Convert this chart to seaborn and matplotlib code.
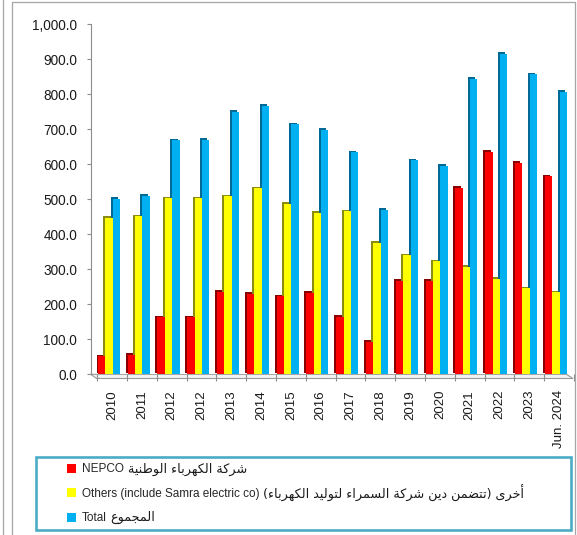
import numpy as np
import pandas as pd
import matplotlib
matplotlib.use("Agg")
import matplotlib.pyplot as plt
import seaborn as sns
from matplotlib.lines import Line2D
from matplotlib.patches import Rectangle, Patch, Polygon
from matplotlib.transforms import ScaledTranslation
from matplotlib.ticker import FuncFormatter

# ---- data -------------------------------------------------------------
years = ["2010", "2011", "2012", "2012", "2013", "2014", "2015", "2016",
         "2017", "2018", "2019", "2020", "2021", "2022", "2023", "Jun. 2024"]
nepco = [52, 55, 163, 163, 235, 230, 223, 233, 164, 93, 268, 268, 533, 636, 604, 566]
others = [447, 451, 503, 503, 509, 531, 487, 462, 466, 375, 340, 323, 307, 273, 246, 234]
total = [501, 510, 669, 670, 750, 767, 714, 699, 634, 470, 612, 595, 845, 916, 857, 807]

series_keys = ["nepco", "others", "total"]
series_en = ["NEPCO", "Others (include Samra electric co)", "Total"]
series_ar = ["شركة الكهرباء الوطنية",
             "أخرى (تتضمن دين شركة السمراء لتوليد الكهرباء)",
             "المجموع"]
y_ticks = [0, 100, 200, 300, 400, 500, 600, 700, 800, 900, 1000]

face_colors = ["#FF0000", "#FFFF00", "#00B0F0"]
side_colors = ["#8A0000", "#8C8C10", "#006A96"]

# ---- minimal Arabic shaping (presentation forms, visual order) --------
DUAL = {"ب": 0xFE8F, "ت": 0xFE95, "ج": 0xFE9D, "خ": 0xFEA5, "س": 0xFEB1,
        "ش": 0xFEB5, "ض": 0xFEBD, "ط": 0xFEC1, "ع": 0xFEC9, "ك": 0xFED9,
        "ل": 0xFEDD, "م": 0xFEE1, "ن": 0xFEE5, "ه": 0xFEE9, "ي": 0xFEF1}
RIGHT = {"ا": 0xFE8D, "أ": 0xFE83, "ة": 0xFE93, "د": 0xFEA9, "ر": 0xFEAD,
         "و": 0xFEED, "ى": 0xFEEF}
NONJOIN = {"ء": 0xFE80}


def shape_arabic(text):
    out = []
    for i, ch in enumerate(text):
        prev = text[i - 1] if i > 0 else ""
        nxt = text[i + 1] if i + 1 < len(text) else ""
        if ch in DUAL:
            jp = prev in DUAL
            jn = nxt in DUAL or nxt in RIGHT
            base = DUAL[ch]
            off = 3 if (jp and jn) else 1 if jp else 2 if jn else 0
            out.append(chr(base + off))
        elif ch in RIGHT:
            out.append(chr(RIGHT[ch] + (1 if prev in DUAL else 0)))
        elif ch in NONJOIN:
            out.append(chr(NONJOIN[ch]))
        else:
            out.append(ch)
    mirror = {"(": ")", ")": "("}
    return "".join(mirror.get(c, c) for c in reversed(out))


# ---- figure -----------------------------------------------------------
sns.set_theme(style="white")
plt.rcParams["font.family"] = ["Liberation Sans", "DejaVu Sans"]

W, H = 577, 535
fig = plt.figure(figsize=(W / 100, H / 100), dpi=100)


def fx(x):
    return x / W


def fy(y):
    return 1 - y / H


L, R, T, B = 97.3, 574.0, 24.3, 374.3
ax = fig.add_axes([fx(L), fy(B), (R - L) / W, (B - T) / H])

df = pd.DataFrame({
    "idx": np.tile(np.arange(len(years)), 3),
    "series": np.repeat(series_keys, len(years)),
    "value": nepco + others + total,
})

# darker side/top faces, nudged up-left to give the columns depth
sns.barplot(data=df, x="idx", y="value", hue="series", hue_order=series_keys,
            palette=side_colors, width=0.74, gap=0, saturation=1,
            errorbar=None, legend=False, ax=ax)
n_side = len(ax.patches)
depth = ScaledTranslation(-2.0 / 100, 1.6 / 100, fig.dpi_scale_trans)
for p in ax.patches:
    p.set_transform(ax.transData + depth)
    p.set_linewidth(0)

# front faces
sns.barplot(data=df, x="idx", y="value", hue="series", hue_order=series_keys,
            palette=face_colors, width=0.74, gap=0, saturation=1,
            errorbar=None, legend=False, ax=ax)
for p in ax.patches[n_side:]:
    p.set_linewidth(0)

n = len(years)
ax.set_xlim(-0.39, n - 0.39)
ax.set_ylim(0, 1000)
ax.set_xlabel("")
ax.set_ylabel("")

ax.set_xticks(np.arange(n) + 0.11)
ax.set_xticklabels(years, rotation=90, fontsize=9.5, color="#1a1a1a")
ax.set_xticks(np.arange(n + 1) - 0.39, minor=True)
ax.tick_params(axis="x", which="major", length=0, pad=11.3)
ax.tick_params(axis="x", which="minor", length=5, width=0.8, color="#8c8c8c",
               direction="out", bottom=True)

ax.set_yticks(y_ticks)
ax.yaxis.set_major_formatter(FuncFormatter(lambda v, _: f"{v:,.1f}"))
ax.tick_params(axis="y", length=2.9, width=0.8, color="#8c8c8c", pad=6.8,
               labelsize=9.8, labelcolor="#1a1a1a", left=True)

for s in ("top", "right", "bottom"):
    ax.spines[s].set_visible(False)
ax.spines["left"].set_position(("outward", 4.75))
ax.spines["left"].set_color("#8c8c8c")
ax.spines["left"].set_linewidth(0.8)
ax.grid(False)

# floor of the plot area
floor = Polygon([(fx(90.7), fy(374.3)), (fx(566.5), fy(374.3)),
                 (fx(573.0), fy(378.5)), (fx(96.7), fy(378.5))],
                closed=True, transform=fig.transFigure, facecolor="#f2f2f2",
                edgecolor="#9a9a9a", linewidth=0.8, zorder=0)
fig.add_artist(floor)

# outer frame lines
frame_kw = dict(transform=fig.transFigure, color="#a6a6a6", linewidth=0.9)
fig.add_artist(Line2D([fx(2.7), fx(2.7)], [fy(0), fy(535)], **frame_kw))
fig.add_artist(Line2D([fx(11.7), fx(11.7)], [fy(1.7), fy(535)], **frame_kw))
fig.add_artist(Line2D([fx(11.7), fx(575.3)], [fy(1.7), fy(1.7)], **frame_kw))
fig.add_artist(Line2D([fx(575.3), fx(575.3)], [fy(1.7), fy(535)], **frame_kw))

# legend box
fig.add_artist(Rectangle((fx(36.5), fy(530)), (571 - 36.5) / W, (530 - 456.5) / H,
                         transform=fig.transFigure, fill=False,
                         edgecolor="#4BACC6", linewidth=1.9))
handles = [Patch(facecolor=c, edgecolor="none") for c in face_colors]
leg = ax.legend(handles, series_en, loc="upper left",
                bbox_to_anchor=(fx(67), fy(463.5)), bbox_transform=fig.transFigure,
                frameon=False, borderpad=0, borderaxespad=0,
                handlelength=0.8, handleheight=0.8, handletextpad=0.45,
                labelspacing=1.05,
                prop={"family": ["Liberation Sans", "DejaVu Sans"], "size": 8.5})

# Arabic part of each legend entry, set right after the English label
fig.canvas.draw()
renderer = fig.canvas.get_renderer()
for txt, ar in zip(leg.get_texts(), series_ar):
    bb = txt.get_window_extent(renderer)
    fig.text(bb.x1 + 4, (bb.y0 + bb.y1) / 2 + 0.5, shape_arabic(ar),
             transform=None, ha="left", va="center", fontsize=9.2,
             family=["DejaVu Sans"], color="#1a1a1a")

fig.savefig("out.png", dpi=100)
